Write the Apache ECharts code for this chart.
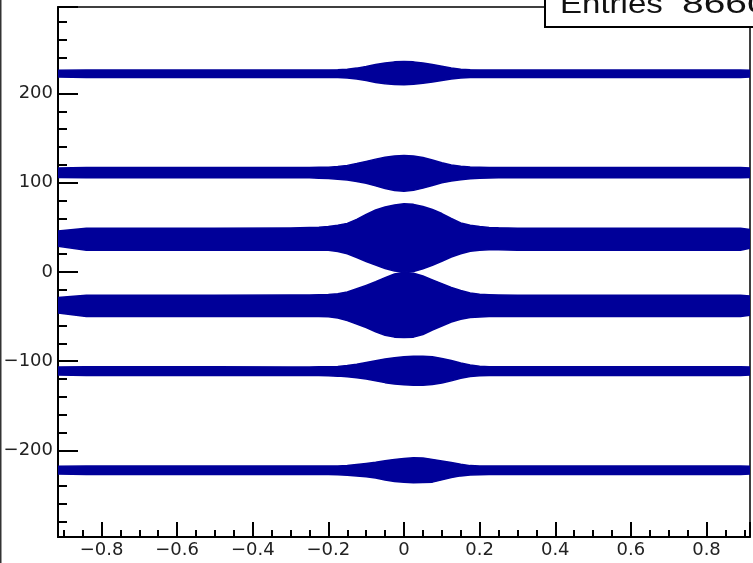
<!DOCTYPE html>
<html>
<head>
<meta charset="utf-8">
<script src="https://cdn.jsdelivr.net/npm/echarts@6/dist/echarts.min.js"></script>
<style>
html,body{margin:0;padding:0;background:#fff;}
#main{width:753px;height:563px;}
</style>
</head>
<body>
<div id="main"></div>
<script>
// sample x positions along each band
var xs = [-0.915, -0.84, -0.5, -0.3, -0.25, -0.225, -0.2, -0.175, -0.15, -0.125, -0.1, -0.075, -0.05, -0.025, 0,
          0.025, 0.05, 0.075, 0.1, 0.125, 0.15, 0.175, 0.2, 0.225, 0.25, 0.3, 0.5, 0.89, 0.915];

// upper / lower envelope of each scatter band
var band1Upper = [226, 226.5, 226.5, 226.5, 226.5, 226.5, 226.5, 226.7, 227.3, 228.5, 230.3, 232.5, 234.3, 235.5, 236, 235.5, 234.3, 232.5, 230.5, 228.7, 227.3, 226.7, 226.5, 226.5, 226.5, 226.5, 226.5, 226.5, 226];
var band1Lower = [218.5, 218, 218, 218, 218, 218, 218, 218, 217.5, 216.3, 214.5, 212.5, 211, 210.2, 210, 210.5, 211.5, 213, 214.7, 216.3, 217.5, 218, 218, 218, 218, 218, 218, 218, 218.5];

var band2Upper = [116.5, 117, 117, 117, 117.2, 117.3, 117.5, 118.2, 119.5, 121.5, 124, 126.5, 128.5, 130, 130.5, 130, 128.3, 125.5, 122.5, 120, 118.5, 117.7, 117.3, 117.1, 117, 117, 117, 117, 116.5];
var band2Lower = [106, 105.5, 105.5, 105.5, 105.5, 105.2, 104.7, 104, 103, 101.5, 99.5, 96.5, 93.5, 91.3, 90.5, 91.5, 94, 97, 100, 102, 103.5, 104.5, 105, 105.3, 105.5, 105.5, 105.5, 105.5, 106];

var band3Upper = [46, 49, 49, 49.3, 49.8, 50.2, 51, 52.3, 54.5, 59, 64.5, 69.5, 72.8, 75, 76.5, 75.8, 73.5, 70, 65.5, 60, 55, 52.3, 51, 50, 49.5, 49, 49, 49, 47.5];
var band3Lower = [29, 24.5, 24.5, 24.5, 24.5, 24.5, 24.5, 23, 20.5, 16.3, 11.8, 7.8, 4, 1, 0, 0.5, 3.5, 7.5, 12, 16.8, 20.5, 23.3, 24.5, 24.8, 24.8, 24.5, 24.5, 24.5, 26.5];

var band4Upper = [-28.5, -26, -26, -25.8, -25.8, -25.5, -25.3, -24.5, -22.5, -18.8, -15, -11, -6.5, -2.3, -0.3, -1.5, -4.5, -8.8, -13, -17.3, -20.8, -23.5, -25, -25.5, -25.8, -26, -26, -26, -27];
var band4Lower = [-46, -50, -50, -50, -50, -50, -50.2, -51.5, -54.5, -58.3, -62.2, -67, -71, -73, -73.5, -73, -70, -65, -60.5, -56, -53, -51, -50.3, -50, -50, -50, -50, -50, -48.5];

var band5Upper = [-106.5, -106.3, -106.3, -106.4, -106.4, -106.3, -106.2, -106, -104.8, -103.3, -101.5, -99.5, -97.5, -96, -95, -94.4, -94.4, -95, -97, -99.3, -102, -104.3, -105.6, -106.2, -106.3, -106.3, -106.3, -106.3, -106.5];
var band5Lower = [-115.5, -116, -116, -116, -116, -116, -116.3, -116.7, -117.5, -118.5, -119.8, -121.8, -124, -125.5, -126.3, -127, -127, -126, -124.5, -122, -119, -117, -116.3, -116, -116, -116, -116, -116, -115.5];

var band6Upper = [-217.8, -217.4, -217.4, -217.4, -217.4, -217.4, -217.4, -217.4, -217, -215.8, -214.6, -213.2, -211.5, -210, -209, -208.3, -208.5, -210, -211.7, -213.5, -215.5, -217, -217.4, -217.4, -217.4, -217.4, -217.4, -217.4, -217.8];
var band6Lower = [-226.5, -227, -227, -227, -227, -227, -227, -227.2, -227.8, -228.5, -229.5, -231, -233, -234.8, -235.6, -236.2, -236, -235.5, -233, -230.3, -228.5, -227.6, -227.2, -227, -227, -227, -227, -227, -226.5];

var statLabel = 'Entries';
var statValue = '86600';

var bands = [
  {upper: band1Upper, lower: band1Lower},
  {upper: band2Upper, lower: band2Lower},
  {upper: band3Upper, lower: band3Lower},
  {upper: band4Upper, lower: band4Lower},
  {upper: band5Upper, lower: band5Lower},
  {upper: band6Upper, lower: band6Lower}
];

var chart = echarts.init(document.getElementById('main'), null, {renderer: 'canvas'});

function fmtLabel(step) {
  return function (v) {
    var r = v / step;
    if (Math.abs(r - Math.round(r)) > 1e-6) return '';
    var s = String(Math.round(r) === 0 ? 0 : +(v.toFixed(3)));
    return s.replace('-', '\u2212');
  };
}

var tickStyle = {color: '#000', width: 2};
var labelStyle = {color: '#222', fontFamily: 'DejaVu Sans', fontSize: 18};

chart.setOption({
  animation: false,
  backgroundColor: '#fff',
  grid: {left: 58, right: 3, top: 7, bottom: 26, show: true, borderColor: '#000', borderWidth: 1.5, backgroundColor: 'transparent'},
  xAxis: {
    type: 'value', min: -0.915, max: 0.915, splitNumber: 9,
    axisLine: {show: true, onZero: false, lineStyle: {color: '#000', width: 2}},
    axisTick: {show: true, inside: true, length: 15, lineStyle: tickStyle},
    minorTick: {show: true, splitNumber: 4, length: 7, lineStyle: tickStyle},
    splitLine: {show: false},
    axisLabel: Object.assign({margin: 4, showMinLabel: false, showMaxLabel: false, formatter: fmtLabel(0.2)}, labelStyle)
  },
  yAxis: {
    type: 'value', min: -297, max: 297, splitNumber: 6,
    axisLine: {show: true, onZero: false, lineStyle: {color: '#000', width: 2}},
    axisTick: {show: true, inside: true, length: 20, lineStyle: tickStyle},
    minorTick: {show: true, splitNumber: 5, length: 9, lineStyle: tickStyle},
    splitLine: {show: false},
    axisLabel: Object.assign({margin: 5, showMinLabel: false, showMaxLabel: false, formatter: fmtLabel(100)}, labelStyle)
  },
  series: [{
    type: 'custom',
    clip: true,
    data: bands.map(function (b, i) { return [0, 0, i]; }),
    renderItem: function (params, api) {
      var b = bands[params.dataIndex];
      var pts = [];
      for (var i = 0; i < xs.length; i++) pts.push(api.coord([xs[i], b.upper[i]]));
      for (var j = xs.length - 1; j >= 0; j--) pts.push(api.coord([xs[j], b.lower[j]]));
      return {
        type: 'polygon',
        shape: {points: pts},
        style: {fill: '#000099', stroke: '#000099', lineWidth: 1.5, lineJoin: 'round'}
      };
    }
  }],
  graphic: [
    {type: 'rect', shape: {x: 0, y: 0, width: 1.5, height: 563}, style: {fill: '#333'}, z: 100},
    {type: 'rect', shape: {x: 545, y: -10, width: 230, height: 37}, style: {fill: '#fff', stroke: '#000', lineWidth: 2}, z: 100},
    {type: 'text', x: 560, y: 19, scaleX: 1.18, z: 101,
      style: {text: statLabel, fontFamily: 'Liberation Sans', fontSize: 28, fill: '#111', verticalAlign: 'bottom', align: 'left'}},
    {type: 'text', x: 682, y: 19, scaleX: 1.39, z: 101,
      style: {text: statValue, fontFamily: 'Liberation Sans', fontSize: 28, fill: '#111', verticalAlign: 'bottom', align: 'left'}}
  ]
});
</script>
</body>
</html>
